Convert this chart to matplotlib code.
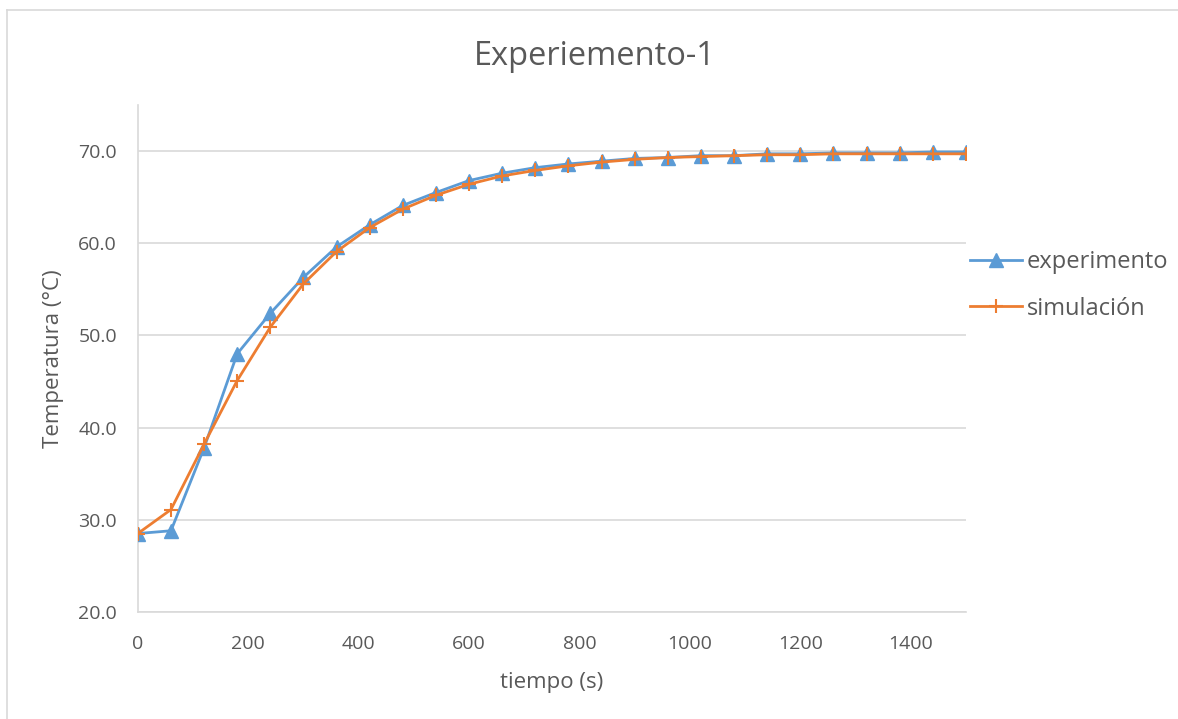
import matplotlib.pyplot as plt
from matplotlib.lines import Line2D

# --- DATOS ---
tiempo = [0, 60, 120, 180, 240, 300, 360, 420, 480, 540, 600, 660, 720,
          780, 840, 900, 960, 1020, 1080, 1140, 1200, 1260, 1320, 1380, 1440, 1500]
experimento = [28.5, 28.8, 37.8, 48.0, 52.4, 56.3, 59.6, 62.0, 64.1, 65.5, 66.8, 67.6, 68.2,
               68.6, 68.9, 69.2, 69.3, 69.5, 69.5, 69.7, 69.7, 69.8, 69.8, 69.8, 69.9, 69.9]
simulacion = [28.5, 31.1, 38.2, 45.1, 50.9, 55.6, 59.1, 61.7, 63.7, 65.2, 66.4, 67.3, 67.9,
              68.4, 68.8, 69.1, 69.3, 69.4, 69.5, 69.6, 69.6, 69.7, 69.7, 69.7, 69.7, 69.7]
yticks = [20, 30, 40, 50, 60, 70]
xticks = [0, 200, 400, 600, 800, 1000, 1200, 1400]

BLUE = '#5B9BD5'
ORANGE = '#ED7D31'
TEXT = '#595959'
GRID = '#D9D9D9'

plt.rcParams['font.family'] = ['Open Sans', 'DejaVu Sans']

fig = plt.figure(figsize=(11.78, 7.19), dpi=100)
ax = fig.add_axes([0.117, 0.149, 0.703, 0.705])

# borde del gráfico (solo izquierda y arriba visibles en el recorte)
fig.lines.append(Line2D([6.5 / 1178, 6.5 / 1178], [0, 1 - 9.5 / 719], transform=fig.transFigure,
                        color=GRID, linewidth=1.2))
fig.lines.append(Line2D([6.5 / 1178, 1], [1 - 9.5 / 719, 1 - 9.5 / 719], transform=fig.transFigure,
                        color=GRID, linewidth=1.2))

ax.plot(tiempo, experimento, color=BLUE, linewidth=2, marker='^', markersize=10,
        label='experimento', zorder=3)
ax.plot(tiempo, simulacion, color=ORANGE, linewidth=2, marker='+', markersize=10,
        markeredgewidth=1.5, label='simulación', zorder=4)

ax.set_xlim(0, 1500)
ax.set_ylim(20, 75)
ax.set_xticks(xticks)
ax.set_yticks(yticks)
ax.set_yticklabels([f'{v:.1f}' for v in yticks])
ax.grid(axis='y', color=GRID, linewidth=1.2)
ax.set_axisbelow(True)
ax.tick_params(length=0, labelsize=14, colors=TEXT)
ax.tick_params(axis='y', pad=15)
ax.tick_params(axis='x', pad=17)

for s in ['top', 'right']:
    ax.spines[s].set_visible(False)
for s in ['left', 'bottom']:
    ax.spines[s].set_color(GRID)
    ax.spines[s].set_linewidth(1.2)

ax.set_xlabel('tiempo (s)', fontsize=16, color=TEXT, labelpad=13)
ax.set_ylabel('Temperatura (°C)', fontsize=16, color=TEXT, labelpad=10)
fig.text(0.505, 0.921, 'Experiemento-1', fontsize=23.5, color=TEXT, ha='center', va='center')

ax.legend(loc='center left', bbox_to_anchor=(1.005, 0.644), frameon=False, fontsize=17,
          labelcolor=TEXT, handlelength=2.2, handletextpad=0.2, labelspacing=0.95,
          borderpad=0, borderaxespad=0)

fig.savefig('out.png', dpi=100)
